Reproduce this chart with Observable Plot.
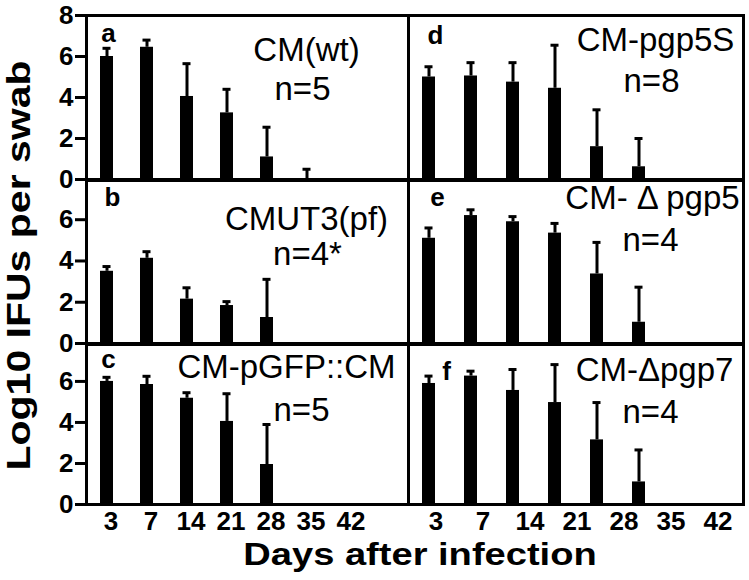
<!DOCTYPE html>
<html><head><meta charset="utf-8">
<script src="https://cdn.jsdelivr.net/npm/d3@7"></script>
<script src="https://cdn.jsdelivr.net/npm/@observablehq/plot@0.6"></script>
<style>
body{margin:0;background:#fff;}
#fig{position:relative;width:749px;height:580px;overflow:hidden;background:#fff;font-family:"Liberation Sans",Arial,sans-serif;}
.panel{position:absolute;}
.title{position:absolute;white-space:nowrap;font-weight:bold;color:#000;font-family:"Liberation Sans",Arial,sans-serif;}
</style></head><body><div id="fig"></div>
<script>
// ---- data ----
const days = ["3","7","14","21","28","35","42"];
const panelLetters = ["a","b","c","d","e","f"];
const strains = ["CM(wt)","CMUT3(pf)","CM-pGFP::CM","CM-pgp5S","CM- \u0394 pgp5","CM-\u0394pgp7"];
const nLabels = ["n=5","n=4*","n=5","n=8","n=4","n=4"];
const yTicksTop = [0,2,4,6,8];
const yTicks = [0,2,4,6];
const xTitle = "Days after infection";
const yTitle = "Log10 IFUs per swab";

// bar heights (mean) and top of error bar, per day
const meanA = [6.0, 6.45, 4.05, 3.25, 1.1, 0, null];
const topA  = [6.4, 6.8, 5.65, 4.4, 2.55, 0.5, null];
const meanB = [3.5, 4.13, 2.15, 1.84, 1.26, null, null];
const topB  = [3.73, 4.45, 2.7, 2.03, 3.11, null, null];
const meanC = [6.0, 5.85, 5.18, 4.05, 1.95, null, null];
const topC  = [6.2, 6.25, 5.45, 5.4, 3.9, null, null];
const meanD = [5.0, 5.05, 4.75, 4.45, 1.6, 0.62, null];
const topD  = [5.5, 5.7, 5.7, 6.55, 3.4, 2.0, null];
const meanE = [5.1, 6.2, 5.9, 5.35, 3.37, 1.03, null];
const topE  = [5.6, 6.48, 6.15, 5.82, 4.9, 2.73, null];
const meanF = [5.9, 6.26, 5.56, 4.97, 3.15, 1.1, null];
const topF  = [6.26, 6.5, 6.58, 6.82, 4.97, 2.66, null];

const means = [meanA, meanB, meanC, meanD, meanE, meanF];
const tops = [topA, topB, topC, topD, topE, topF];

// ---- layout ----
const FONT = '"Liberation Sans", Arial, sans-serif';
const cols = [
  {left: 0, width: 411, ml: 86, mr: 3, xr: [86, 366], yaxis: true},
  {left: 405, width: 341, ml: 3, mr: 3, xr: [3, 297], yaxis: false}
];
const rowsL = [
  {top: 0, mt: 15, ph: 164, ymax: 8, ticks: yTicksTop},
  {top: 177, mt: 3, ph: 163, ymax: 7.9, ticks: yTicks},
  {top: 341, mt: 3, ph: 160, ymax: 7.8, ticks: yTicks}
];
const annot = [
  {l: [22, 26], s: [220, 45], n: [216, 84]},
  {l: [26, 25], s: [220, 49], n: [221, 84]},
  {l: [22, 23], s: [200, 33], n: [215, 76]},
  {l: [27, 28], s: [247, 35], n: [243, 76]},
  {l: [29, 25], s: [244, 28], n: [242, 70]},
  {l: [38, 35], s: [246, 36], n: [242, 78]}
];

const fig = document.getElementById("fig");

function rowsOf(mean, top) {
  return days.map((d, k) => ({day: d, mean: mean[k], top: top[k]})).filter(r => r.mean != null);
}

for (let i = 0; i < 6; i++) {
  const col = cols[Math.floor(i / 3)];
  const row = rowsL[i % 3];
  const isBottomLeft = (i === 2);
  const mb = isBottomLeft ? 45 : 3;
  const data = rowsOf(means[i], tops[i]);
  const a = annot[i];
  const marks = [
    Plot.barY(data, {x: "day", y: "mean", fill: "black"}),
    Plot.ruleX(data, {x: "day", y1: "mean", y2: "top", stroke: "black", strokeWidth: 3}),
    Plot.tickY(data, {x: "day", y: "top", stroke: "black", strokeWidth: 3, insetLeft: 2.5, insetRight: 2.5}),
    Plot.frame({stroke: "black", strokeWidth: 3}),
    Plot.text([panelLetters[i]], {frameAnchor: "top-left", text: d => d, textAnchor: "middle", lineAnchor: "bottom",
      dx: a.l[0], dy: a.l[1], fontSize: 26, fontWeight: "bold", fill: "black"}),
    Plot.text([strains[i]], {frameAnchor: "top-left", text: d => d, textAnchor: "middle", lineAnchor: "bottom",
      dx: a.s[0], dy: a.s[1], fontSize: 33, fill: "black"}),
    Plot.text([nLabels[i]], {frameAnchor: "top-left", text: d => d, textAnchor: "middle", lineAnchor: "bottom",
      dx: a.n[0], dy: a.n[1], fontSize: 33, fill: "black"})
  ];
  if (col.yaxis) marks.push(Plot.axisY({ticks: row.ticks, tickSize: 11, tickPadding: 2, fontSize: 26,
      fontWeight: "bold", strokeWidth: 3, label: null, tickFormat: d => String(d)}));
  if (isBottomLeft) marks.push(Plot.axisX({tickSize: 0, tickPadding: 7, fontSize: 26, fontWeight: "bold",
      dx: 4, label: null}));
  const p = Plot.plot({
    width: col.width,
    height: row.mt + row.ph + mb,
    marginLeft: col.ml, marginRight: col.mr, marginTop: row.mt, marginBottom: mb,
    style: {background: "none", fontFamily: FONT, color: "black", overflow: "visible"},
    x: Object.assign({type: "band", domain: days, range: col.xr, paddingInner: 0.68, paddingOuter: 0.34},
      isBottomLeft ? {} : {axis: null}),
    y: Object.assign({domain: [0, row.ymax]}, col.yaxis ? {} : {axis: null}),
    marks
  });
  p.classList.add("panel");
  p.style.left = col.left + "px";
  p.style.top = row.top + "px";
  fig.appendChild(p);
}

// right column tick labels (offset in the reference)
const ax = Plot.plot({
  width: 749, height: 40, marginTop: 1, marginBottom: 39, marginLeft: 0, marginRight: 0,
  style: {background: "none", fontFamily: FONT, color: "black", overflow: "visible"},
  x: {type: "band", domain: days, range: [411, 742], padding: 0},
  marks: [Plot.axisX({tickSize: 0, tickPadding: 6, fontSize: 26, fontWeight: "bold", label: null})]
});
ax.classList.add("panel");
ax.style.left = "0px";
ax.style.top = "504px";
fig.appendChild(ax);

// x axis title
const xt = document.createElement("div");
xt.className = "title";
xt.textContent = xTitle;
xt.style.fontSize = "32px";
xt.style.lineHeight = "1";
xt.style.left = "420px";
xt.style.top = "554px";
xt.style.transform = "translate(-50%,-50%) scaleX(1.19)";
fig.appendChild(xt);

// y axis title as rotated SVG text
const ytp = Plot.plot({
  width: 46, height: 580, marginTop: 0, marginBottom: 0, marginLeft: 0, marginRight: 0,
  style: {background: "none", fontFamily: FONT, color: "black", overflow: "visible"},
  marks: [Plot.text([yTitle], {frameAnchor: "left", text: d => d, rotate: -90, textAnchor: "middle",
    lineAnchor: "middle", dx: 19, dy: -25, fontSize: 33, fontWeight: "bold", fill: "black"})]
});
ytp.classList.add("panel");
ytp.style.left = "0px";
ytp.style.top = "0px";
const ytText = ytp.querySelector('g[aria-label="text"] text');
if (ytText) { ytText.setAttribute("textLength", "410"); ytText.setAttribute("lengthAdjust", "spacingAndGlyphs"); }
fig.appendChild(ytp);
</script>
</body></html>
